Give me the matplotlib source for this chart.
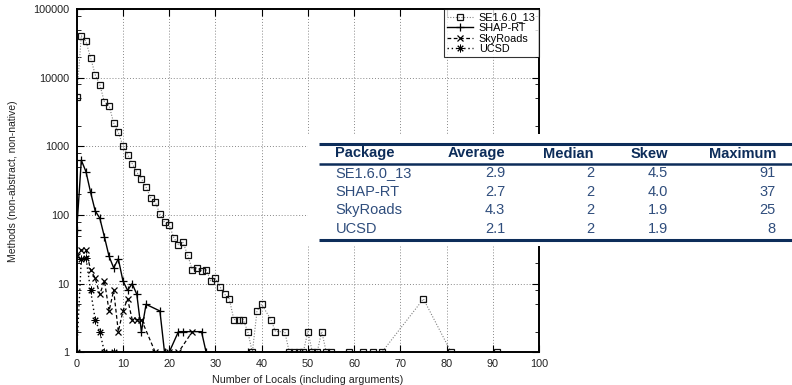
import numpy as np
import matplotlib
matplotlib.use('Agg')
import matplotlib.pyplot as plt
from matplotlib.ticker import FixedLocator, FuncFormatter, LogLocator, NullFormatter

plt.rcParams['font.family'] = ['Liberation Sans', 'DejaVu Sans']

# data (locals -> number of methods, zero counts not drawn)
se_x = [0, 1, 2, 3, 4, 5, 6, 7, 8, 9, 10, 11, 12, 13, 14, 15, 16, 17, 18, 19, 20,
        21, 22, 23, 24, 25, 26, 27, 28, 29, 30, 31, 32, 33, 34, 35, 36, 37, 38, 39, 40,
        42, 43, 45, 46, 47, 48, 49, 50, 51, 52, 53, 54, 55, 59, 62, 64, 66, 75, 81, 91]
se_y = [5300, 41000, 34000, 19700, 11100, 7900, 4450, 3950, 2200, 1600, 1020, 760, 560,
        420, 340, 254, 179, 154, 103, 78, 72, 47, 37, 40, 26, 16, 17, 15.5, 16, 11, 12,
        9, 7, 6, 3, 3, 3, 2, 1, 4, 5, 3, 2, 2, 1, 1, 1, 1, 2, 1, 1, 2, 1, 1, 1, 1, 1, 1,
        6, 1, 1]

shap_x = [0, 1, 2, 3, 4, 5, 6, 7, 8, 9, 10, 11, 12, 13, 14, 15, 18, 19, 20, 22, 23, 27, 28, 37]
shap_y = [60, 630, 430, 215, 115, 90, 48, 25, 17, 23, 11, 8, 10, 7, 2, 5, 4, 1, 1, 2, 2, 2, 1, 1]

sky_x = [0, 1, 2, 3, 4, 5, 6, 7, 8, 9, 10, 11, 12, 13, 14, 17, 20, 22, 25]
sky_y = [25, 31, 31, 16, 12, 7, 11, 4, 8, 2, 4, 6, 3, 3, 3, 1, 1, 1, 2]

ucsd_x = [0, 1, 2, 3, 4, 5, 6, 8]
ucsd_y = [1, 23, 24, 8, 3, 2, 1, 1]

# summary table
packages = ['SE1.6.0_13', 'SHAP-RT', 'SkyRoads', 'UCSD']
average = ['2.9', '2.7', '4.3', '2.1']
median = ['2', '2', '2', '2']
skew = ['4.5', '4.0', '1.9', '1.9']
maximum = ['91', '37', '25', '8']
headers = ['Package', 'Average', 'Median', 'Skew', 'Maximum']

W, H = 792, 385
fig = plt.figure(figsize=(W / 100, H / 100), dpi=100)
ax = fig.add_axes([76.7 / W, 1 - 352.3 / H, (539 - 76.7) / W, (352.3 - 9.2) / H])

ax.plot(se_x, se_y, linestyle=(0, (1, 1.5)), color='#808080', lw=0.8,
        marker='s', ms=4.8, mfc='none', mec='#111111', mew=0.9, label='SE1.6.0_13')
ax.plot(shap_x, shap_y, '-', color='black', lw=1.0,
        marker='+', ms=6, mew=0.9, label='SHAP-RT')
ax.plot(sky_x, sky_y, linestyle=(0, (3, 2)), color='black', lw=0.9,
        marker='x', ms=5, mew=0.9, label='SkyRoads')
ax.plot(ucsd_x, ucsd_y, linestyle=(0, (1, 2)), color='black', lw=1.0,
        marker=(8, 2, 0), ms=5.5, mew=0.7, label='UCSD')

ax.set_yscale('log')
ax.set_xlim(0, 100)
ax.set_ylim(1, 100000)
ax.set_xticks(np.arange(0, 101, 10))
ax.yaxis.set_major_locator(FixedLocator([1, 10, 100, 1000, 10000, 100000]))
ax.yaxis.set_major_formatter(FuncFormatter(lambda v, p: '%d' % v))
ax.yaxis.set_minor_locator(LogLocator(base=10, subs=(2, 5, 8)))
ax.yaxis.set_minor_formatter(NullFormatter())
ax.tick_params(which='both', direction='in', top=True, right=True,
               labelsize=7.8, labelcolor='#222222')
ax.tick_params(which='major', length=5, width=0.8, pad=5)
ax.tick_params(which='minor', length=3, width=0.6)
ax.grid(True, which='major', linestyle=(0, (1, 2)), color='#888888', lw=0.7)
for s in ax.spines.values():
    s.set_linewidth(1.4)

ax.set_xlabel('Number of Locals (including arguments)', fontsize=7.7, color='#222222', labelpad=4)
ax.set_ylabel('Methods (non-abstract, non-native)', fontsize=7.5, color='#222222', labelpad=11)

leg = ax.legend(loc='upper right', fontsize=7.8, frameon=True, fancybox=False,
                borderaxespad=0, handlelength=2.4, handletextpad=0.5,
                labelspacing=0.05, borderpad=0.3)
leg.get_frame().set_edgecolor('black')
leg.get_frame().set_linewidth(0.8)

# table drawn over the plot, in pixel units
tab = fig.add_axes([308 / W, 1 - 246 / H, (W - 308) / W, (246 - 134) / H])
tab.set_xlim(308, W)
tab.set_ylim(246, 134)
tab.axis('off')
tab.add_patch(plt.Rectangle((308, 134), W - 308, 112, color='white', zorder=0))
navy = '#0d2d5a'
body = '#2f4d7c'
tab.hlines([144, 239.5], 319, W, color=navy, lw=2.2)
tab.hlines(163.5, 319, W, color=navy, lw=1.8)

col_x = [335.5, 505, 594, 668, 776]
for j, h in enumerate(headers):
    tab.text(col_x[j], 153.5, h, ha='left' if j == 0 else 'right', va='center',
             fontsize=10.5, fontweight='bold', color=navy)
cols = [packages, average, median, skew, maximum]
for i in range(len(packages)):
    y = 173 + i * 18.6
    for j, c in enumerate(cols):
        tab.text(col_x[j], y, c[i], ha='left' if j == 0 else 'right', va='center',
                 fontsize=10.5, color=body)

fig.savefig('out.png', dpi=100)
